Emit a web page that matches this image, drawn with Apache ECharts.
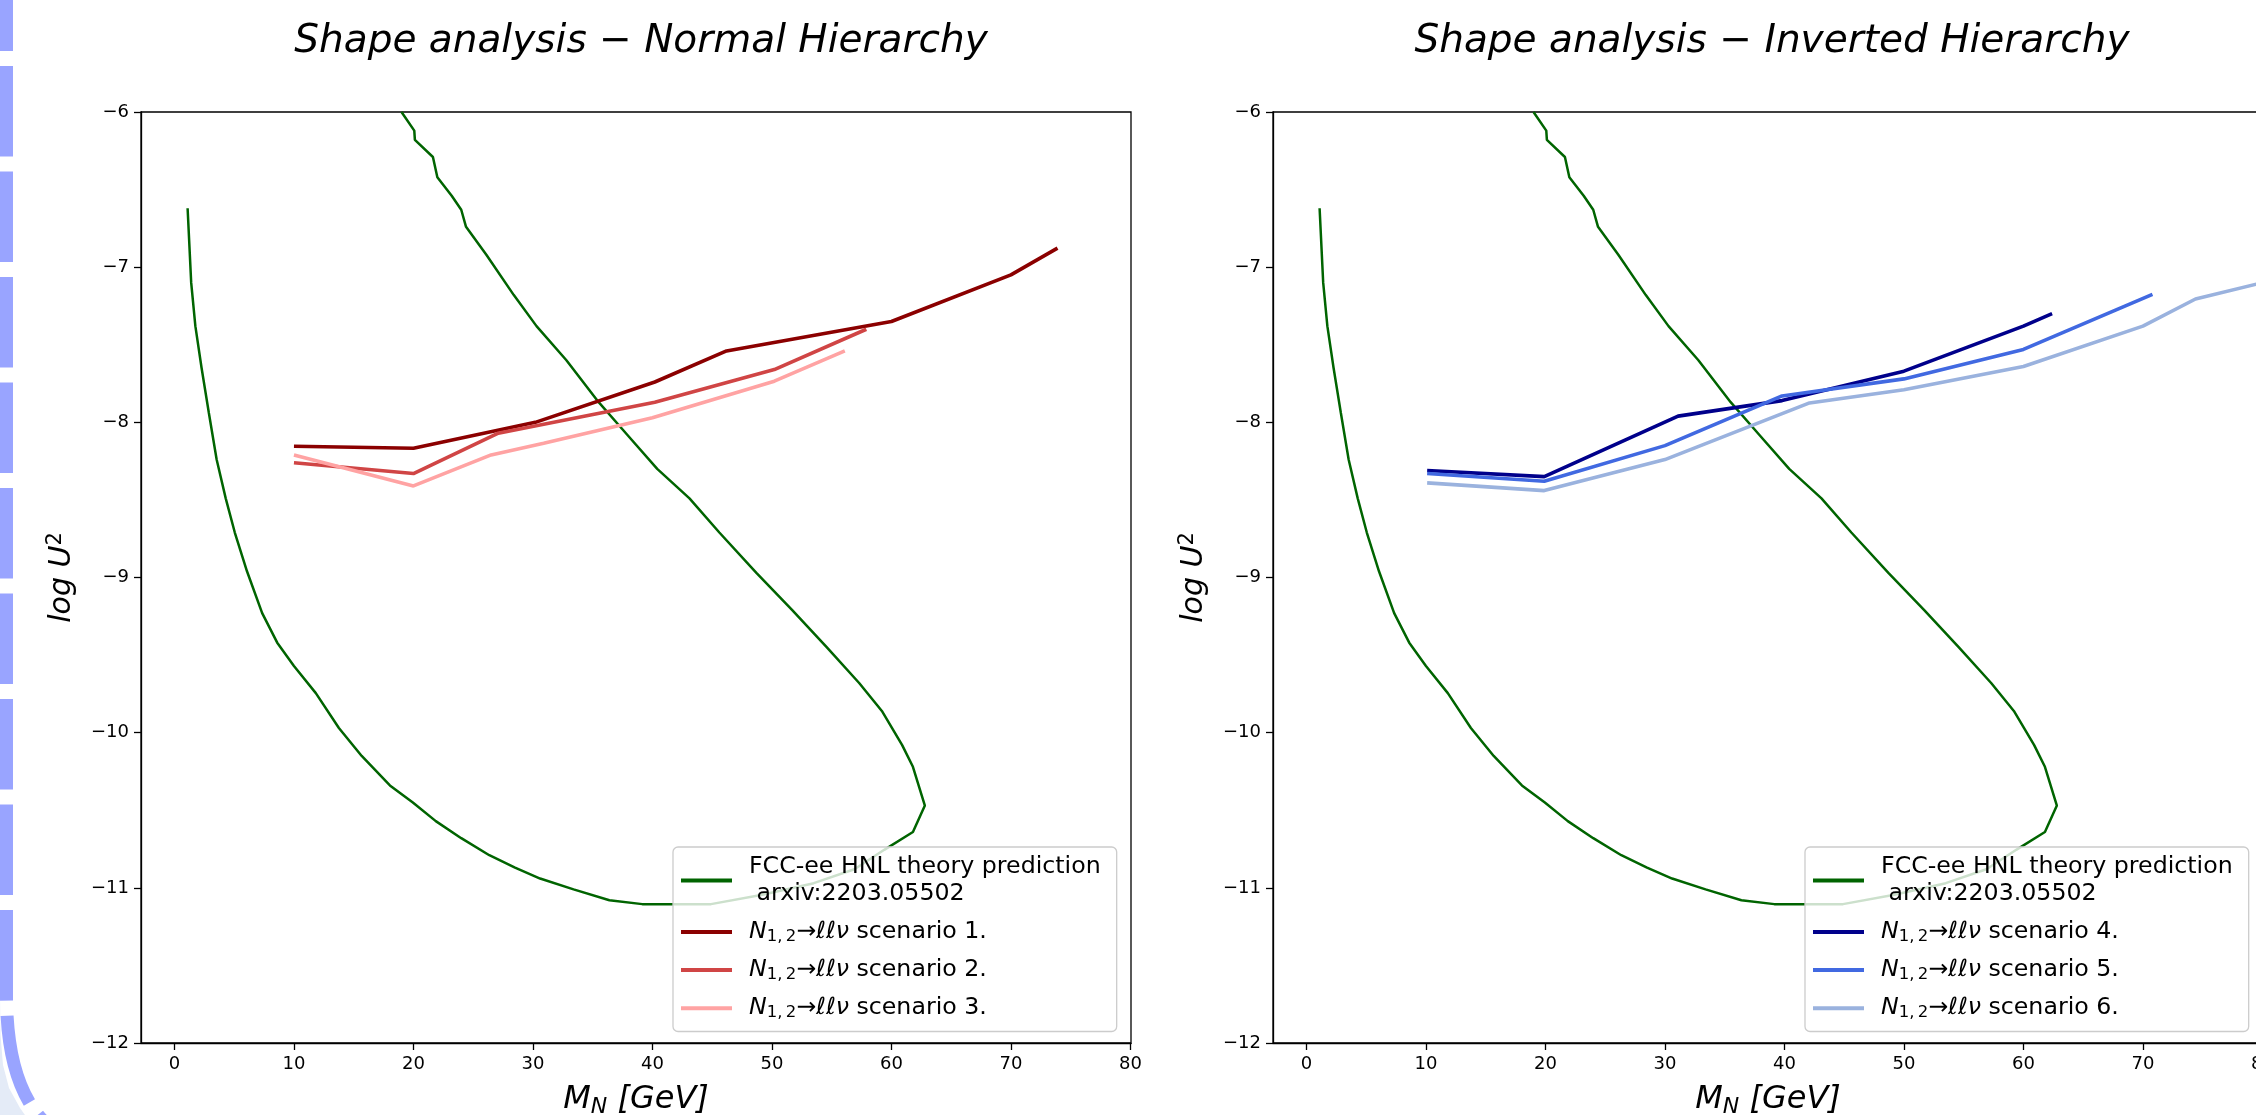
<!DOCTYPE html>
<html>
<head>
<meta charset="utf-8">
<title>Shape analysis</title>
<script src="https://cdn.jsdelivr.net/npm/echarts@6.0.0/dist/echarts.min.js"></script>
<style>
  html, body { margin: 0; padding: 0; background: #ffffff; }
  #chart_shape { width: 2256px; height: 1115px; }
</style>
</head>
<body>
<div id="chart_shape"></div>
<script>
// FCC-ee theory contour (drawn in data order, it is a closed-ish curve)
const theoryMass = [1.1, 1.4, 1.75, 2.27, 2.88, 3.53, 4.29, 5.05, 6.07, 7.34, 8.6, 10.0, 11.83, 13.76,
  15.67, 18.03, 19.95, 21.87, 24.0, 26.35, 28.5, 30.6, 33.4, 36.4, 39.15, 41.5, 44.9, 49.2, 53.5,
  56.9, 59.4, 61.8, 62.8, 61.8, 60.9, 59.2, 57.3, 54.6, 51.7, 48.7, 45.6, 43.1, 40.4, 38.0, 35.5,
  32.8, 30.3, 28.4, 26.1, 24.4, 24.0, 23.2, 22.0, 21.63, 20.12, 20.07, 19.0];
const theoryLogU2 = [-6.62, -7.1, -7.38, -7.65, -7.94, -8.24, -8.49, -8.71, -8.96, -9.23, -9.42, -9.57,
  -9.745, -9.97, -10.15, -10.34, -10.45, -10.57, -10.68, -10.79, -10.87, -10.94, -11.01, -11.08,
  -11.105, -11.105, -11.105, -11.045, -10.97, -10.88, -10.755, -10.64, -10.47, -10.22, -10.08, -9.86,
  -9.68, -9.45, -9.21, -8.97, -8.71, -8.49, -8.30, -8.09, -7.87, -7.60, -7.38, -7.18, -6.92, -6.74,
  -6.63, -6.54, -6.42, -6.29, -6.18, -6.12, -6.0];

// normal hierarchy
const s1Mass = [10, 20, 30.2, 40.2, 46.2, 60, 70, 73.9];
const s1LogU2 = [-8.154, -8.167, -8.00, -7.74, -7.54, -7.35, -7.05, -6.877];
const s2Mass = [10, 20, 27.1, 40.2, 50.2, 57.9];
const s2LogU2 = [-8.26, -8.33, -8.07, -7.87, -7.66, -7.40];
const s3Mass = [10, 20, 26.5, 30.9, 40, 50.2, 56.1];
const s3LogU2 = [-8.21, -8.41, -8.21, -8.135, -7.97, -7.735, -7.54];

// inverted hierarchy
const s4Mass = [10.1, 19.9, 31.1, 39.8, 50, 60, 62.4];
const s4LogU2 = [-8.31, -8.35, -7.96, -7.86, -7.67, -7.38, -7.30];
const s5Mass = [10.1, 19.9, 30, 39.8, 50, 60, 70.8];
const s5LogU2 = [-8.33, -8.38, -8.15, -7.83, -7.72, -7.53, -7.175];
const s6Mass = [10.1, 19.9, 30, 42.1, 50, 60, 70, 74.4, 80];
const s6LogU2 = [-8.39, -8.44, -8.24, -7.875, -7.79, -7.64, -7.38, -7.205, -7.10];

const xTicks = [0, 10, 20, 30, 40, 50, 60, 70, 80];

const FONT = "DejaVu Sans";
const myChart = echarts.init(document.getElementById("chart_shape"));

function pairs(xs, ys) {
  return xs.map((x, i) => [x, ys[i]]);
}

function lineSeries(name, xs, ys, color, width, g) {
  return {
    type: "line",
    name: name,
    xAxisIndex: g,
    yAxisIndex: g,
    data: pairs(xs, ys),
    showSymbol: false,
    symbol: "none",
    color: color,
    itemStyle: { color: color },
    lineStyle: { color: color, width: width },
    clip: true,
    silent: true,
  };
}

function xAxisOf(g) {
  return {
    type: "value",
    gridIndex: g,
    min: -2.8,
    max: 80.05,
    axisLine: { show: true, onZero: false, lineStyle: { color: "#000", width: 1.3 } },
    axisTick: { show: true, length: 7, customValues: xTicks, lineStyle: { color: "#000", width: 1.3 } },
    axisLabel: { customValues: xTicks, color: "#000", fontSize: 18, fontFamily: FONT, margin: 12 },
    splitLine: { show: false },
    name: "{i|M}{sub|N}{i| [GeV]}",
    nameLocation: "middle",
    nameGap: 39,
    nameTextStyle: {
      color: "#000",
      fontFamily: FONT,
      rich: {
        i: { fontSize: 32, fontStyle: "italic", fontFamily: FONT, lineHeight: 36, color: "#000" },
        sub: { fontSize: 22, fontStyle: "italic", fontFamily: FONT, lineHeight: 22, verticalAlign: "bottom", color: "#000" },
      },
    },
  };
}

function yAxisOf(g) {
  return {
    type: "value",
    gridIndex: g,
    min: -12,
    max: -6,
    interval: 1,
    axisLine: { show: true, onZero: false, lineStyle: { color: "#000", width: 1.3 } },
    axisTick: { show: true, length: 7, lineStyle: { color: "#000", width: 1.3 } },
    axisLabel: {
      color: "#000", fontSize: 18, fontFamily: FONT, margin: 12,
      formatter: (v) => String(v).replace("-", "\u2212"),
    },
    splitLine: { show: false },
    name: "{i|log U}{sup|2}",
    nameLocation: "middle",
    nameRotate: 90,
    nameGap: 62,
    nameTextStyle: {
      color: "#000",
      fontFamily: FONT,
      rich: {
        i: { fontSize: 30, fontStyle: "italic", fontFamily: FONT, lineHeight: 34, color: "#000" },
        sup: { fontSize: 21, fontFamily: FONT, lineHeight: 21, verticalAlign: "top", color: "#000" },
      },
    },
  };
}

const scenarioNo = { s1: 1, s2: 2, s3: 3, s4: 4, s5: 5, s6: 6 };

function legendOf(names, left) {
  return {
    data: names,
    left: left,
    top: 847,
    orient: "vertical",
    icon: "rect",
    itemWidth: 51,
    itemHeight: 4,
    itemGap: 11.5,
    selectedMode: false,
    padding: [7, 16, 10, 8],
    backgroundColor: "rgba(255,255,255,0.8)",
    borderColor: "#cccccc",
    borderWidth: 1.3,
    borderRadius: 5,
    formatter: (name) => {
      if (name === "theory") return "FCC-ee HNL theory prediction\n arxiv:2203.05502";
      return "{n|N}{sub|1,\u20092}{t|\u2192}{n|\u2113\u2113\u03bd}{t| scenario " + scenarioNo[name] + ".}";
    },
    textStyle: {
      fontFamily: FONT,
      fontSize: 23.7,
      lineHeight: 26.6,
      color: "#000",
      padding: [0, 0, 0, 12],
      rich: {
        n: { fontFamily: FONT, fontSize: 23.7, fontStyle: "italic", color: "#000" },
        sub: { fontFamily: FONT, fontSize: 16.5, lineHeight: 16, verticalAlign: "bottom", color: "#000" },
        t: { fontFamily: FONT, fontSize: 23.7, color: "#000" },
      },
    },
  };
}

const titleStyle = { fontFamily: FONT, fontStyle: "italic", fontWeight: "normal", fontSize: 39, color: "#000" };

const option = {
  animation: false,
  backgroundColor: "#ffffff",
  title: [
    { text: "Shape analysis \u2212 Normal Hierarchy", left: 636, top: 17, textAlign: "center", textStyle: titleStyle },
    { text: "Shape analysis \u2212 Inverted Hierarchy", left: 1767, top: 17, textAlign: "center", textStyle: titleStyle },
  ],
  grid: [
    { left: 141, top: 112, width: 990, height: 931, show: true, borderColor: "#000", borderWidth: 1.3, outerBoundsMode: "none", containLabel: false },
    { left: 1273, top: 112, width: 990, height: 931, show: true, borderColor: "#000", borderWidth: 1.3, outerBoundsMode: "none", containLabel: false },
  ],
  xAxis: [xAxisOf(0), xAxisOf(1)],
  yAxis: [yAxisOf(0), yAxisOf(1)],
  legend: [legendOf(["theory", "s1", "s2", "s3"], 673), legendOf(["theory", "s4", "s5", "s6"], 1805)],
  series: [
    lineSeries("theory", theoryMass, theoryLogU2, "#006400", 2.5, 0),
    lineSeries("s1", s1Mass, s1LogU2, "#8b0000", 3.6, 0),
    lineSeries("s2", s2Mass, s2LogU2, "#d04545", 3.6, 0),
    lineSeries("s3", s3Mass, s3LogU2, "#ffa3a3", 3.6, 0),
    lineSeries("theory", theoryMass, theoryLogU2, "#006400", 2.5, 1),
    lineSeries("s4", s4Mass, s4LogU2, "#00008b", 3.6, 1),
    lineSeries("s5", s5Mass, s5LogU2, "#4169e1", 3.6, 1),
    lineSeries("s6", s6Mass, s6LogU2, "#9ab2de", 3.6, 1),
  ],
  // dashed page border visible at the left edge of the screenshot
  graphic: [
    {
      type: "polygon", z: -1, silent: true,
      shape: { points: [[0, 995], [0.5, 1035], [3, 1065], [9, 1088], [20, 1108], [32, 1125], [0, 1125]] },
      style: { fill: "#e4ebf7" },
    },
    {
      type: "line", silent: true,
      shape: { x1: 6.5, y1: 0, x2: 6.5, y2: 995 },
      style: { stroke: "#99a4ff", lineWidth: 13, lineDash: [90.5, 15], lineDashOffset: 39.5 },
    },
    {
      type: "bezierCurve", silent: true,
      shape: { x1: 6.5, y1: 995, cpx1: 6.5, cpy1: 1110, x2: 70, y2: 1140 },
      style: { fill: null, stroke: "#99a4ff", lineWidth: 13, lineDash: [90.5, 15], lineDashOffset: 85 },
    },
  ],
};

myChart.setOption(option, true);

window.addEventListener("resize", () => {
  myChart.resize();
});
</script>
</body>
</html>
